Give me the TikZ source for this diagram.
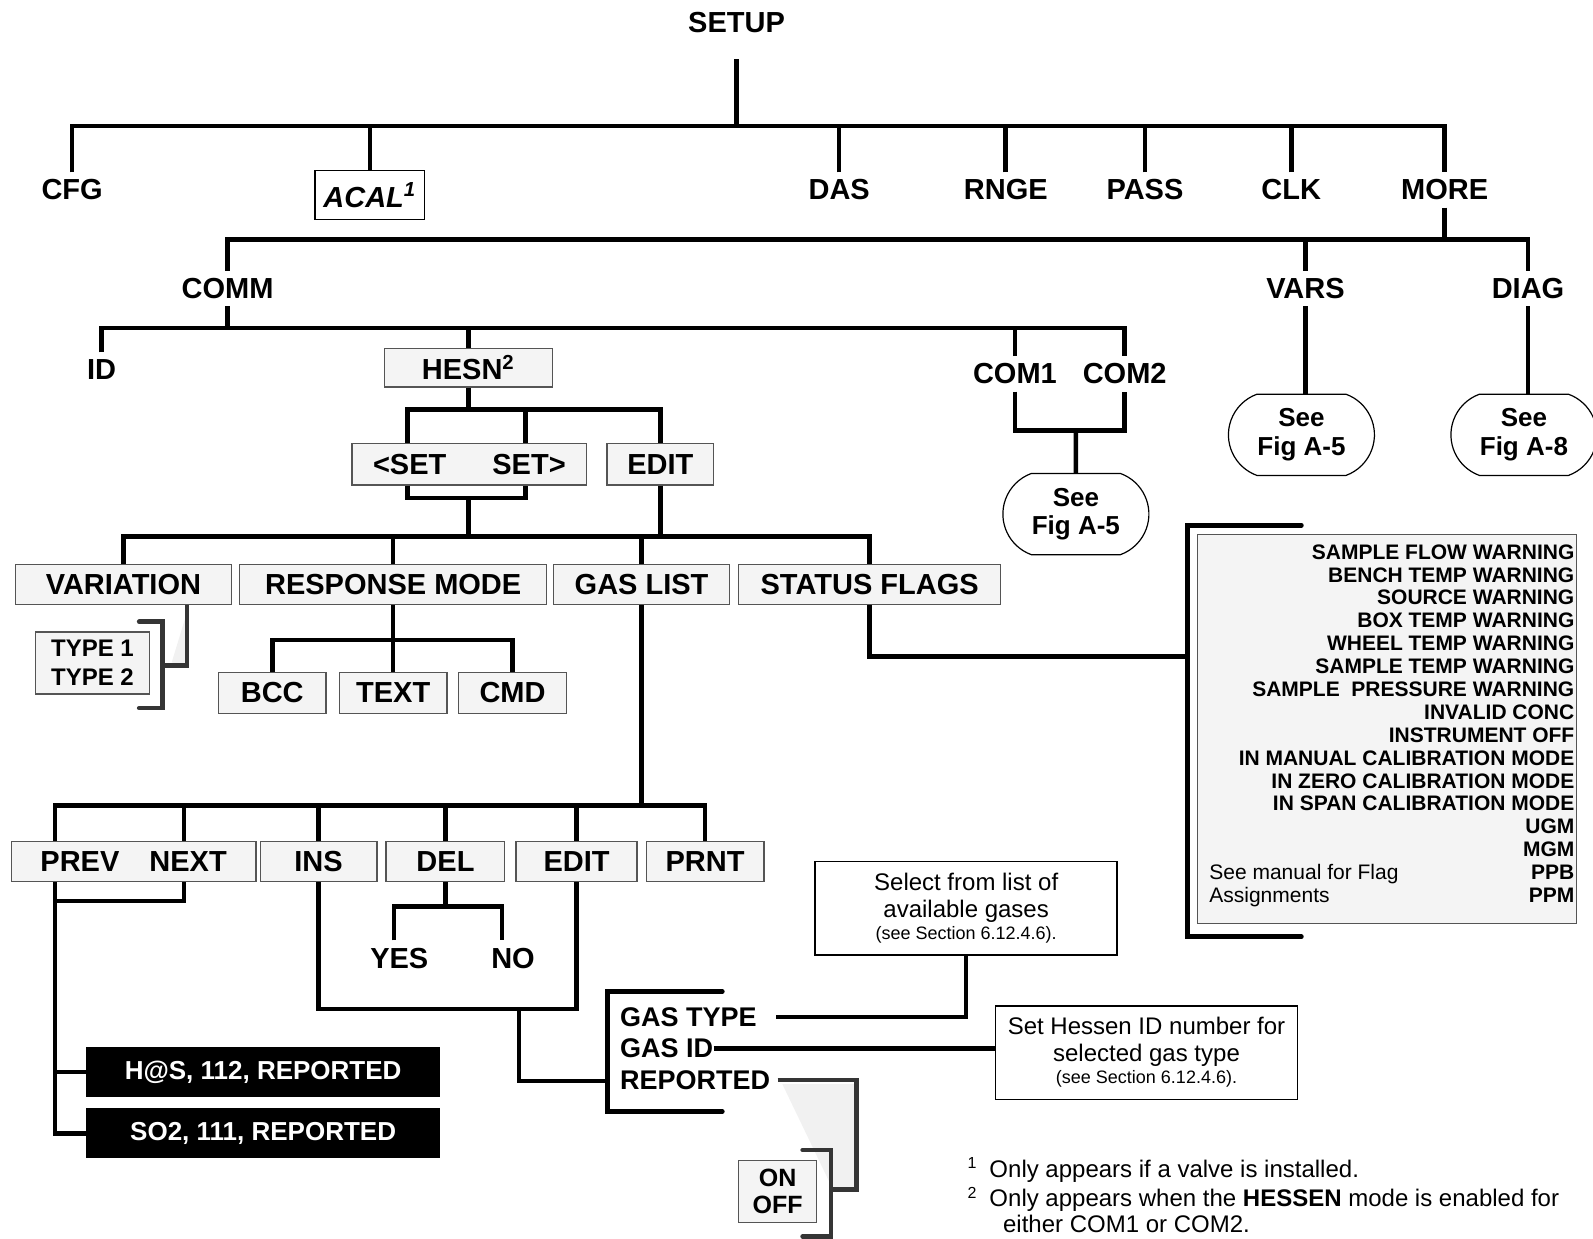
\documentclass[tikz,border=0pt]{standalone}
\usepackage{fontspec}
\setmainfont{Liberation Sans}
\usepackage{tikz}
\usetikzlibrary{shapes.misc}
\definecolor{KeyFill}{HTML}{F4F4F4}
\definecolor{KeyLine}{HTML}{555555}
\definecolor{BracketLine}{HTML}{353535}
\definecolor{CalloutFill}{HTML}{F1F1F1}

\begin{document}
\begin{tikzpicture}[
  x=0.508pt,y=-0.508pt,
  menu/.style={font=\fontsize{14.5}{17}\selectfont\bfseries,inner sep=3.5pt},
  softkey/.style={menu,draw=KeyLine,fill=KeyFill,line width=.6pt,inner sep=1pt,
    minimum height=19.8pt},
  calbox/.style={softkey,draw=black,fill=white,line width=.7pt,
    font=\fontsize{14.5}{17}\selectfont\bfseries\itshape},
  seefig/.style={rounded rectangle,rounded rectangle arc length=140,draw,line width=.6pt,
    fill=white,align=center,font=\fontsize{13}{14.2}\selectfont\bfseries,
    minimum width=75pt,minimum height=40.6pt,inner sep=1pt},
  darkkey/.style={fill=black,text=white,font=\fontsize{13}{15}\selectfont\bfseries,
    minimum width=176.8pt,minimum height=25pt},
  field/.style={font=\fontsize{13.5}{15}\selectfont\bfseries,anchor=west,inner sep=0pt},
  infobox/.style={draw,line width=.7pt,fill=white,align=center,
    font=\fontsize{12}{13.2}\selectfont,minimum width=151pt,minimum height=46.7pt},
  flagtext/.style={font=\fontsize{10.5}{12}\selectfont\bfseries,anchor=base east,inner sep=0pt},
  flagnote/.style={font=\fontsize{10.5}{12}\selectfont,anchor=base west,inner sep=0pt},
  fnote/.style={font=\fontsize{12}{14}\selectfont,anchor=base west,inner sep=0pt},
  small/.style={font=\fontsize{8.5}{10}\selectfont},
  tree/.style={line width=2.3pt},
  greytree/.style={tree,draw=BracketLine},
  bracket/.style={tree,line cap=round},
  greybracket/.style={greytree,line cap=round},
  callout/.style={fill=CalloutFill}
]
\useasboundingbox (0,0) rectangle (1568,1219);

\fill[callout] (169,652) -- (183,606) -- (183,655) -- cycle;
\fill[callout] (770,1067) -- (843,1067) -- (843,1171) -- (820,1171) -- cycle;

\node[menu] (setup) at (725,22) {SETUP};
\node[menu] (cfg) at (71,187) {CFG};
\node[calbox,minimum width=54.9pt,minimum height=24.4pt] (acal) at (364,192) {ACAL\textsuperscript{1}};
\node[menu] (das) at (826,187) {DAS};
\node[menu] (rnge) at (990,187) {RNGE};
\node[menu] (pass) at (1127,187) {PASS};
\node[menu] (clk) at (1271,187) {CLK};
\node[menu] (more) at (1422,187) {MORE};

\node[menu] (comm) at (224,284) {COMM};
\node[menu] (vars) at (1285,284) {VARS};
\node[menu] (diag) at (1504,284) {DIAG};

\node[menu] (id) at (100,364) {ID};
\node[softkey,minimum width=83.8pt,minimum height=19.3pt] (hesn) at (461,362) {HESN\textsuperscript{2}};
\node[menu] (com1) at (999,368) {COM1};
\node[menu] (com2) at (1107,368) {COM2};

\node[seefig] (vfig) at (1281,428) {See\\Fig A-5};
\node[seefig] (dfig) at (1500,428) {See\\Fig A-8};
\node[seefig] (cfig) at (1059,506) {See\\Fig A-5};

\node[softkey,minimum width=117.3pt,minimum height=20.8pt] (setbox) at (462,457) {<SET\hspace{23pt}SET>};
\node[softkey,minimum width=53.3pt,minimum height=20.8pt] (edit1) at (650,457) {EDIT};

\node[softkey,minimum width=108.2pt] (variation) at (121.5,575.5) {VARIATION};
\node[softkey,minimum width=153.4pt] (response) at (387,575.5) {RESPONSE MODE};
\node[softkey,minimum width=87.9pt] (gaslist) at (631.5,575.5) {GAS LIST};
\node[softkey,minimum width=131.1pt] (status) at (856,575.5) {STATUS FLAGS};

\node[softkey,font=\fontsize{12}{14.2}\selectfont\bfseries,align=left,
  minimum width=56.9pt,minimum height=31pt] (typebox) at (91,652.5) {TYPE 1\\TYPE 2};
\node[softkey,minimum width=53.8pt,minimum height=20.3pt] (bcc) at (268,682) {BCC};
\node[softkey,minimum width=53.8pt,minimum height=20.3pt] (text) at (387,682) {TEXT};
\node[softkey,minimum width=53.8pt,minimum height=20.3pt] (cmd) at (504.5,682) {CMD};

\node[softkey,minimum width=122.4pt,minimum height=20.3pt] (prevnext) at (131.5,848) {PREV\hspace{15pt}NEXT};
\node[softkey,minimum width=58.4pt,minimum height=20.3pt] (ins) at (313.5,848) {INS};
\node[softkey,minimum width=59.4pt,minimum height=20.3pt] (del) at (438.5,848) {DEL};
\node[softkey,minimum width=60.5pt,minimum height=20.3pt] (edit2) at (567.5,848) {EDIT};
\node[softkey,minimum width=58.9pt,minimum height=20.3pt] (prnt) at (694,848) {PRNT};

\node[menu] (yes) at (393,943) {YES};
\node[menu] (no) at (505,943) {NO};

\node[darkkey] (hs) at (259,1055) {H@S, 112, REPORTED};
\node[darkkey] (so2) at (259,1115.5) {SO2, 111, REPORTED};

\node[field] (gastype) at (610,1001) {GAS TYPE};
\node[field] (gasid) at (610,1032) {GAS ID};
\node[field] (reported) at (610,1063) {REPORTED};

\node[infobox] (select) at (951,894) {Select from list of\\available gases\\[-2pt]{\small (see Section 6.12.4.6).}};
\node[infobox] (sethessen) at (1128.5,1036) {Set Hessen ID number for\\selected gas type\\[-2pt]{\small (see Section 6.12.4.6).}};

\node[softkey,font=\fontsize{12.5}{13.7}\selectfont\bfseries,align=center,
  minimum width=39pt,minimum height=31pt] (onoff) at (765.5,1172.5) {ON\\OFF};

\node[draw=KeyLine,fill=KeyFill,line width=.6pt,minimum width=189.5pt,
  minimum height=194.6pt,inner sep=0pt] (flags) at (1365.5,717.5) {};
\foreach \flag [count=\i from 0] in {SAMPLE FLOW WARNING,BENCH TEMP WARNING,
  SOURCE WARNING,BOX TEMP WARNING,WHEEL TEMP WARNING,SAMPLE TEMP WARNING,
  SAMPLE\ \ PRESSURE WARNING,INVALID CONC,INSTRUMENT OFF,
  IN MANUAL CALIBRATION MODE,IN ZERO CALIBRATION MODE,IN SPAN CALIBRATION MODE,
  UGM,MGM,PPB,PPM}
  \node[flagtext] (flag\i) at (1550,{550.4+22.53*\i}) {\flag};
\node[flagnote] (flagnote1) at (1190,865.4) {See manual for Flag};
\node[flagnote] (flagnote2) at (1190,888) {Assignments};

\node[fnote] (fn1) at (952,1159) {\textsuperscript{1}\enspace Only appears if a valve is installed.};
\node[fnote] (fn2) at (952,1188) {\textsuperscript{2}\enspace Only appears when the \textbf{HESSEN} mode is enabled for};
\node[fnote] (fn2b) at (987,1213) {either COM1 or COM2.};

\coordinate (b1) at (725,124);
\draw[tree,shorten <=9.5pt] (setup) -- (b1);
\draw[tree] (cfg) |- (b1) -| (more);
\foreach \n in {acal,das,rnge,pass,clk}
  \draw[tree] (\n) -- (\n |- b1);

\coordinate (b2) at (1422,236);
\draw[tree] (more) -- (b2);
\draw[tree] (comm) |- (b2) -| (diag);
\draw[tree] (vars) -- (vars |- b2);
\draw[tree] (vars) -- (vars |- vfig.north);
\draw[tree] (diag) -- (diag |- dfig.north);

\coordinate (b3) at (224,323);
\draw[tree] (comm) -- (b3);
\draw[tree] (id) |- (b3) -| (com2);
\foreach \n in {hesn,com1}
  \draw[tree] (\n) -- (\n |- b3);

\coordinate (b4) at (1059,424);
\draw[tree] (com1) |- (b4) -| (com2);
\draw[tree] (b4) -- (cfig);

\coordinate (b5l) at (401,403);
\coordinate (b5m) at (517,403);
\draw[tree] (hesn) -- (hesn |- b5l);
\draw[tree] (b5l |- setbox.north) -- (b5l) -| (edit1);
\draw[tree] (b5m) -- (b5m |- setbox.north);

\coordinate (b6l) at (401,490);
\coordinate (b6r) at (517,490);
\coordinate (b7) at (461,528);
\draw[tree] (b6l |- setbox.south) -- (b6l) -- (b6r) -- (b6r |- setbox.south);
\draw[tree] (b7 |- b6l) -- (b7);
\draw[tree] (variation) |- (b7) -| (status);
\foreach \n in {response,gaslist,edit1}
  \draw[tree] (\n) -- (\n |- b7);

\coordinate (vdrop) at (184,655);
\coordinate (tbrk) at (160,655);
\draw[greytree] (variation.south -| vdrop) -- (vdrop) -- (tbrk);
\draw[greybracket] (137,612) -- (160,612) -- (160,697) -- (137,697);

\coordinate (b8) at (387,630);
\draw[tree] (response) -- (text);
\draw[tree] (bcc) |- (b8) -| (cmd);

\coordinate (b9l) at (54,793);
\coordinate (b9r) at (181,793);
\draw[tree] (gaslist) -- (gaslist |- b9l);
\draw[tree] (b9l |- prevnext.north) -- (b9l) -| (prnt);
\draw[tree] (b9r) -- (b9r |- prevnext.north);
\foreach \n in {ins,del,edit2}
  \draw[tree] (\n) -- (\n |- b9l);

\coordinate (b10l) at (54,887);
\coordinate (b10r) at (181,887);
\draw[tree] (b10l |- prevnext.south) -- (b10l) -- (b10r) -- (b10r |- prevnext.south);
\draw[tree] (b10l) |- (so2);
\draw[tree] (hs -| b10l) -- (hs);

\coordinate (b11l) at (388,892);
\coordinate (b11r) at (494,892);
\draw[tree] (del) -- (del |- b11l);
\draw[tree] (yes.north -| b11l) -- (b11l) -- (b11r) -- (b11r |- no.north);

\coordinate (b12) at (511,993);
\coordinate (gbrk) at (598,1064);
\draw[tree] (ins) |- (b12) -| (edit2);
\draw[tree] (b12) |- (gbrk);
\draw[bracket] (711,976) -- (598,976) -- (598,1094) -- (711,1094);

\draw[tree,shorten <=9.5pt] (gastype) -| (select);
\draw[tree] (gasid) -- (gasid -| sethessen.west);

\coordinate (rpc) at (843,1171);
\coordinate (obrk) at (818,1171);
\draw[greytree,shorten <=3.5pt] (reported) -| (rpc) -- (obrk);
\draw[greybracket] (790,1132) -- (818,1132) -- (818,1217) -- (790,1217);

\coordinate (fbrk) at (1169,646);
\draw[tree] (status) |- (fbrk);
\draw[bracket] (1281,517) -- (1169,517) -- (1169,922) -- (1281,922);
\end{tikzpicture}
\end{document}
